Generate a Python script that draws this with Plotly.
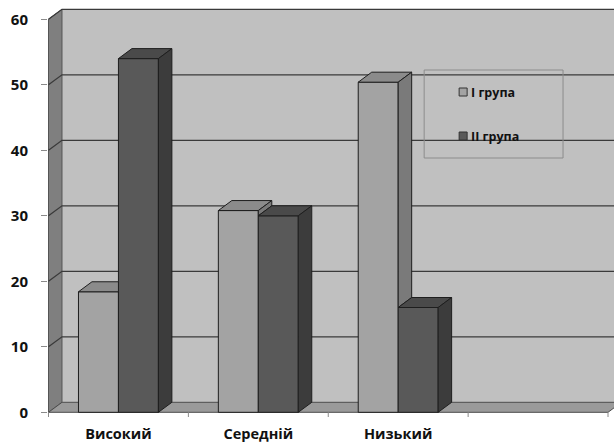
import plotly.graph_objects as go

# ---- data -------------------------------------------------------------
categories = ["Високий", "Середній", "Низький"]
series_names = ["I група", "II група"]
group_1 = [18.4, 30.8, 50.4]
group_2 = [54.0, 30.0, 16.0]
y_ticks = [0, 10, 20, 30, 40, 50, 60]

# ---- geometry (pixels) -----------------------------------------------
W, H = 614, 443
PL, PR, PT, PB = 47.5, 614, 2, 417      # plot box
Y0_PX = 412.3                           # row of value 0 on the front plane
PX_PER_Y = 6.55                         # pixels per value unit
SLOT_PX = 140                           # width of one category slot
X0_PX = 48                              # left edge of the first slot
N_SLOTS = 4                             # three categories plus an empty slot

x_lo = -0.5 - (X0_PX - PL) / SLOT_PX
x_hi = -0.5 + (PR - X0_PX) / SLOT_PX
y_hi = (Y0_PX - PT) / PX_PER_Y
y_lo = (Y0_PX - PB) / PX_PER_Y

DX = 13.5 / SLOT_PX                     # depth offset, x units
DY = 10.0 / PX_PER_Y                    # depth offset, y units
BARGAP = 1 - 80 / SLOT_PX
y_top = y_ticks[-1]
x_end = -0.5 + N_SLOTS

# ---- colours ---------------------------------------------------------
WALL = "#c0c0c0"
SIDE_WALL = "#7f7f7f"
FLOOR = "#9a9a9a"
GRID = "#3a3a3a"
EDGE = "#1e1e1e"
FRONT = ["#a3a3a3", "#595959"]
TOP = ["#8b8b8b", "#4a4a4a"]
SIDE = ["#7a7a7a", "#3c3c3c"]

FONT = "Open Sans"


def poly(pts):
    return "M " + " L ".join(f"{x},{y}" for x, y in pts) + " Z"


shapes = []

# back wall
shapes.append(dict(type="path", xref="x", yref="y", layer="below",
                   path=poly([(-0.5 + DX, DY), (-0.5 + DX, y_top + DY),
                              (x_hi + 0.1, y_top + DY), (x_hi + 0.1, DY)]),
                   fillcolor=WALL, line=dict(width=0)))
# left wall
shapes.append(dict(type="path", xref="x", yref="y", layer="below",
                   path=poly([(-0.5, 0), (-0.5, y_top), (-0.5 + DX, y_top + DY),
                              (-0.5 + DX, DY)]),
                   fillcolor=SIDE_WALL, line=dict(color="#555555", width=1)))
# floor
shapes.append(dict(type="path", xref="x", yref="y", layer="below",
                   path=poly([(-0.5, 0), (x_end, 0), (x_end + DX, DY),
                              (-0.5 + DX, DY)]),
                   fillcolor=FLOOR, line=dict(color="#4a4a4a", width=1)))
# gridlines across the left wall and the back wall
for v in y_ticks[1:]:
    shapes.append(dict(type="path", xref="x", yref="y", layer="below",
                       path=f"M -0.5,{v} L {-0.5 + DX},{v + DY} L {x_hi + 0.1},{v + DY}",
                       line=dict(color=GRID, width=1.3)))
# category tick marks under the floor
for k in range(N_SLOTS + 1):
    xb = -0.5 + k
    shapes.append(dict(type="line", xref="x", yref="y", layer="below",
                       x0=xb, x1=xb, y0=0, y1=-5.5 / PX_PER_Y,
                       line=dict(color="#8a8a8a", width=1)))

# ---- bars -------------------------------------------------------------
series = [group_1, group_2]
n = len(series)
bw = (1 - BARGAP) / n

fig = go.Figure()
for j, vals in enumerate(series):
    fig.add_trace(go.Bar(
        x=list(range(len(categories))), y=vals, name=series_names[j],
        marker=dict(color=FRONT[j], line=dict(color=EDGE, width=1)),
        showlegend=False, hoverinfo="skip"))

# top and side faces, hidden parts trimmed against the neighbouring bar
for i in range(len(categories)):
    for j, vals in enumerate(series):
        v = vals[i]
        xl = i - (1 - BARGAP) / 2 + j * bw
        xr = xl + bw
        nxt = series[j + 1][i] if j + 1 < n else None
        # top face
        if nxt is None or nxt <= v:
            top = [(xl, v), (xl + DX, v + DY), (xr + DX, v + DY), (xr, v)]
        else:
            top = [(xl, v), (xl + DX, v + DY), (xr, v + DY), (xr, v)]
        shapes.append(dict(type="path", xref="x", yref="y", layer="above",
                           path=poly(top), fillcolor=TOP[j],
                           line=dict(color=EDGE, width=1)))
        # side face
        base = 0 if nxt is None else nxt
        if base < v:
            side = [(xr, base), (xr, v), (xr + DX, v + DY), (xr + DX, base + DY)]
            shapes.append(dict(type="path", xref="x", yref="y", layer="above",
                               path=poly(side), fillcolor=SIDE[j],
                               line=dict(color=EDGE, width=1)))

# ---- legend -----------------------------------------------------------
def px_x(px):
    return (px - PL) / (PR - PL)


def px_y(py):
    return (PB - py) / (PB - PT)


shapes.append(dict(type="rect", xref="paper", yref="paper", layer="above",
                   x0=px_x(424), x1=px_x(563), y0=px_y(158), y1=px_y(70),
                   line=dict(color="#8c8c8c", width=1), fillcolor="rgba(0,0,0,0)"))
annotations = []
for j, (name, cy) in enumerate(zip(series_names, [92, 136])):
    shapes.append(dict(type="rect", xref="paper", yref="paper", layer="above",
                       x0=px_x(459), x1=px_x(467), y0=px_y(cy + 4), y1=px_y(cy - 4),
                       fillcolor=FRONT[j], line=dict(color="#333333", width=1)))
    annotations.append(dict(xref="paper", yref="paper", x=px_x(469), y=px_y(cy),
                            xanchor="left", yanchor="middle", showarrow=False,
                            text=name,
                            font=dict(family=FONT, size=12.5, color="#111111",
                                      weight="bold")))

fig.update_layout(
    width=W, height=H, autosize=False,
    margin=dict(l=PL, r=W - PR, t=PT, b=H - PB, pad=0),
    paper_bgcolor="white", plot_bgcolor="white",
    barmode="group", bargap=BARGAP, bargroupgap=0,
    shapes=shapes, annotations=annotations,
    showlegend=False,
    xaxis=dict(range=[x_lo, x_hi], tickmode="array",
               tickvals=list(range(len(categories))), ticktext=categories,
               ticks="", showgrid=False, zeroline=False, showline=False,
               ticklabelstandoff=6,
               tickfont=dict(family=FONT, size=14.5, color="#111111", weight="bold")),
    yaxis=dict(range=[y_lo, y_hi], tickmode="array", tickvals=y_ticks,
               ticks="outside", ticklen=6, tickcolor="#8a8a8a",
               showgrid=False, zeroline=False, showline=False,
               ticklabelstandoff=10,
               tickfont=dict(family=FONT, size=15, color="#111111", weight="bold")),
)

fig.write_html("out.html")
